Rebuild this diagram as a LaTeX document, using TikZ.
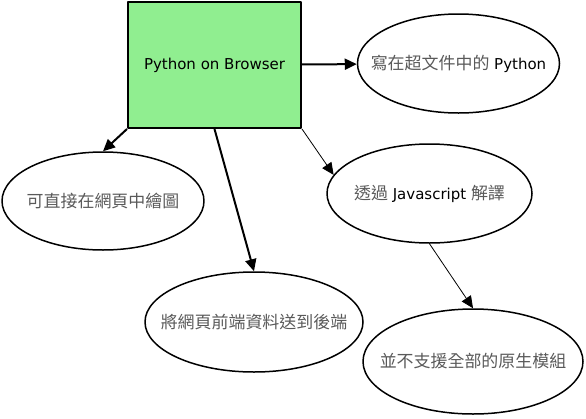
\documentclass[tikz,border=0pt]{standalone}
\usepackage{fontspec}
\setmainfont{DejaVu Sans}
\newfontfamily\cjkfont[Scale=1.13]{Noto Sans CJK TC}
\newcommand{\zh}[1]{{\cjkfont\color{black!65}#1}}
\newcommand{\nowidth}[1]{\makebox[0pt]{#1}}
\definecolor{lightgreen}{HTML}{90EE90}
\usetikzlibrary{shapes.geometric,arrows.meta}
\begin{document}
\begin{tikzpicture}[x=1pt, y=-1pt, font=\fontsize{15}{18}\selectfont, line join=round, >={Triangle[length=12pt,width=11pt]},
	topic/.style={draw, line width=2pt, fill=lightgreen, inner sep=0pt},
	idea/.style={ellipse, draw, line width=1.5pt, inner sep=0pt},
	link/.style={->, line width=2pt},
	thinlink/.style={->, line width=0.8pt}]
		\def\W{586}\def\H{418}
		\useasboundingbox (0,0) rectangle (\W,\H);
		\node[topic, minimum width=173pt, minimum height=126pt] (browser) at (214.5,65) {Python on Browser};
		\node[idea, minimum width=202pt, minimum height=99pt] (html) at (458.5,63.5) {\nowidth{\zh{寫在超文件中的} Python}};
		\node[idea, minimum width=202pt, minimum height=98pt] (canvas) at (103,201) {\nowidth{\zh{可直接在網頁中繪圖}}};
		\node[idea, minimum width=205pt, minimum height=99pt] (js) at (429.5,193.5) {\nowidth{\zh{透過} Javascript \zh{解譯}}};
		\node[idea, minimum width=218pt, minimum height=100pt] (send) at (254,322) {\nowidth{\zh{將網頁前端資料送到後端}}};
		\node[idea, minimum width=220pt, minimum height=105pt] (module) at (473,361.5) {\nowidth{\zh{並不支援全部的原生模組}}};
		\draw[link] (browser) -- (html);
		\draw[link] (browser.south west) -- (canvas.north);
		\draw[link] (browser.south) -- (send.north);
		\draw[thinlink] (browser.south east) -- (js.169);
		\draw[thinlink] (js.south) -- (module.north);
\end{tikzpicture}
\end{document}
